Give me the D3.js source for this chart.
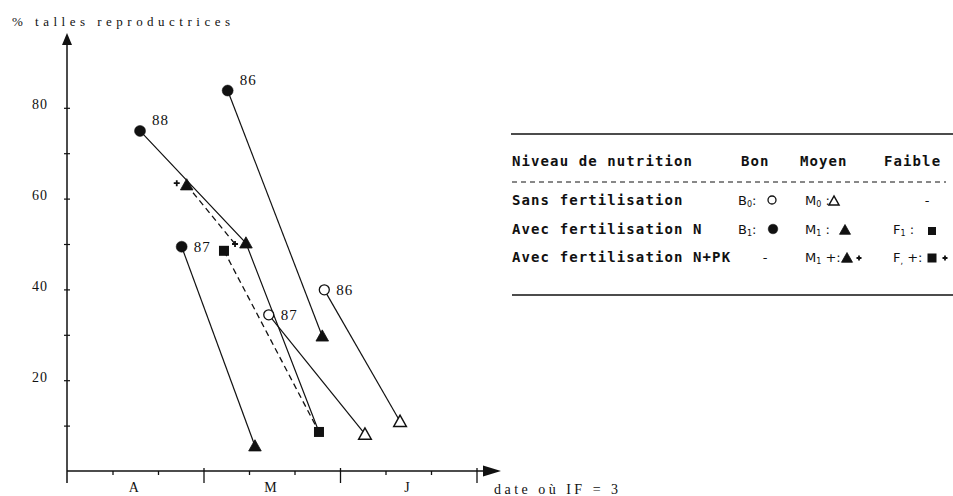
<!DOCTYPE html>
<html><head><meta charset="utf-8">
<script src="https://cdn.jsdelivr.net/npm/d3@7"></script>
<style>body{margin:0;background:#fff}</style>
</head><body><svg id="c" width="953" height="496"></svg>
<script>
// ---------- data (x in months from 1 April, y in % reproductive tillers) ----------
const monthLabels = ["A", "M", "J"];
const yTickValues = [20, 40, 60, 80];
const yMinorValues = [10, 30, 50, 70];
const xTickValues = [1/3, 2/3, 1, 4/3, 5/3, 2, 7/3, 8/3, 3];

const lineSolid88 = [[0.535, 74.9], [1.311, 50.2], [1.846, 8.6]];
const lineDashM88 = [[0.877, 63.0], [1.231, 50.0]];
const lineDashF88 = [[1.150, 48.5], [1.846, 8.6]];
const lineSolid86 = [[1.177, 83.8], [1.870, 29.7]];
const lineSolid87 = [[0.840, 49.4], [1.377, 5.5]];
const lineOpen87  = [[1.478, 34.4], [2.183, 8.1]];
const lineOpen86  = [[1.885, 39.9], [2.440, 10.9]];

const circlesFilled   = [[0.535, 74.9], [1.177, 83.8], [0.840, 49.4]];
const circlesOpen     = [[1.478, 34.4], [1.885, 39.9]];
const trianglesFilled = [[0.877, 63.0], [1.311, 50.2], [1.870, 29.7], [1.377, 5.5]];
const trianglesOpen   = [[2.183, 8.1], [2.440, 10.9]];
const squaresFilled   = [[1.150, 48.5], [1.846, 8.6]];
const plusMarks       = [[0.804, 63.4], [1.231, 50.0]];

const yearLabels = ["88", "86", "87", "86", "87"];
const yearLabelPts = [[0.535, 74.9], [1.177, 83.8], [0.840, 49.4], [1.885, 39.9], [1.478, 34.4]];
const yearLabelSide = ["ne", "ne", "e", "e", "e"];

const legendHeader = ["Niveau de nutrition", "Bon", "Moyen", "Faible"];
const legendRows = ["Sans fertilisation", "Avec fertilisation N", "Avec fertilisation N+PK"];

// ---------- drawing ----------
const svg = d3.select("#c");
const x = d3.scaleLinear().domain([0, 3]).range([67, 476.5]);
const y = d3.scaleLinear().domain([0, 80]).range([471, 107.8]);
const ink = "#111";
const serif = "'Liberation Serif', 'DejaVu Serif', serif";
const mono = "'DejaVu Sans Mono', 'Liberation Mono', monospace";

// title
svg.append("text").attr("x", 12).attr("y", 26)
  .attr("font-family", serif).attr("font-size", 13).attr("fill", ink)
  .attr("textLength", 218).attr("lengthAdjust", "spacing")
  .text("% talles reproductrices");

// y axis
const gy = svg.append("g").attr("transform", "translate(67,0)")
  .call(d3.axisLeft(y).tickValues(yMinorValues.concat(yTickValues)).tickSize(3)
        .tickFormat(d => yTickValues.includes(d) ? d : ""));
gy.select(".domain").remove();
gy.selectAll(".tick line").attr("x1", -3).attr("x2", 3).attr("stroke", ink).attr("stroke-width", 1.2);
gy.selectAll(".tick text").attr("x", -19).attr("dy", "0.07em")
  .attr("font-family", serif).attr("font-size", 14).attr("fill", ink).attr("letter-spacing", 1);
svg.append("line").attr("x1", 67).attr("x2", 67).attr("y1", 44).attr("y2", 483)
  .attr("stroke", ink).attr("stroke-width", 1.5);
svg.append("path").attr("d", "M67,33 L62,45 L72,45 Z").attr("fill", ink);

// x axis
const gx = svg.append("g").attr("transform", "translate(0,471)")
  .call(d3.axisBottom(x).tickValues(xTickValues).tickFormat(""));
gx.select(".domain").remove();
gx.selectAll(".tick line")
  .attr("y1", d => Math.abs(d - Math.round(d)) < 1e-6 ? -3 : 0)
  .attr("y2", d => Math.abs(d - Math.round(d)) < 1e-6 ? 12 : 4)
  .attr("stroke", ink).attr("stroke-width", 1.3);
svg.append("line").attr("x1", 67).attr("x2", 485).attr("y1", 471).attr("y2", 471)
  .attr("stroke", ink).attr("stroke-width", 1.5);
svg.append("path").attr("d", "M501,471 L483,465.5 L483,476.5 Z").attr("fill", ink);
svg.selectAll("text.month").data(monthLabels).join("text").attr("class", "month")
  .attr("x", (d, i) => x(i + 0.49)).attr("y", 492).attr("text-anchor", "middle")
  .attr("font-family", serif).attr("font-size", 14).attr("fill", ink).text(d => d);
svg.append("text").attr("x", 494).attr("y", 494)
  .attr("font-family", serif).attr("font-size", 14).attr("fill", ink)
  .attr("textLength", 124).attr("lengthAdjust", "spacing")
  .text("date où IF = 3");

// lines
const line = d3.line().x(d => x(d[0])).y(d => y(d[1]));
[lineSolid88, lineSolid86, lineSolid87, lineOpen87, lineOpen86].forEach(l =>
  svg.append("path").attr("d", line(l)).attr("fill", "none").attr("stroke", ink).attr("stroke-width", 1.2));
[lineDashM88, lineDashF88].forEach(l =>
  svg.append("path").attr("d", line(l)).attr("fill", "none").attr("stroke", ink)
     .attr("stroke-width", 1.3).attr("stroke-dasharray", "6,4"));

// marker helpers
function tri(g, cx, cy, s, filled) {
  g.append("path").attr("d", `M${cx},${cy - s} L${cx - s},${cy + s * 0.78} L${cx + s},${cy + s * 0.78} Z`)
    .attr("fill", filled ? ink : "#fff").attr("stroke", ink).attr("stroke-width", filled ? 0.8 : 1.5)
    .attr("stroke-linejoin", "miter");
}
function circ(g, cx, cy, r, filled) {
  g.append("circle").attr("cx", cx).attr("cy", cy).attr("r", r)
    .attr("fill", filled ? ink : "#fff").attr("stroke", ink).attr("stroke-width", filled ? 0.5 : 1.3);
}
function sq(g, cx, cy, s) {
  g.append("rect").attr("x", cx - s / 2).attr("y", cy - s / 2).attr("width", s).attr("height", s).attr("fill", ink);
}
function plus(g, cx, cy, s) {
  g.append("path").attr("d", `M${cx - s},${cy} H${cx + s} M${cx},${cy - s} V${cy + s}`)
    .attr("stroke", ink).attr("stroke-width", 1.8);
}

const gm = svg.append("g");
circlesFilled.forEach(p => circ(gm, x(p[0]), y(p[1]), 5.5, true));
circlesOpen.forEach(p => circ(gm, x(p[0]), y(p[1]), 5, false));
trianglesFilled.forEach(p => tri(gm, x(p[0]), y(p[1]), 6.3, true));
trianglesOpen.forEach(p => tri(gm, x(p[0]), y(p[1]), 6.3, false));
squaresFilled.forEach(p => sq(gm, x(p[0]), y(p[1]), 10));
plusMarks.forEach(p => plus(gm, x(p[0]), y(p[1]), 3));

// year labels
svg.selectAll("text.yr").data(yearLabels).join("text").attr("class", "yr")
  .attr("x", (d, i) => x(yearLabelPts[i][0]) + 12)
  .attr("y", (d, i) => y(yearLabelPts[i][1]) + (yearLabelSide[i] === "ne" ? -6 : 5))
  .attr("font-family", serif).attr("font-size", 15).attr("fill", ink).attr("letter-spacing", 1)
  .text(d => d);

// ---------- legend table ----------
const lg = svg.append("g");
lg.append("line").attr("x1", 511).attr("x2", 953).attr("y1", 134).attr("y2", 134).attr("stroke", ink).attr("stroke-width", 1.3);
lg.append("line").attr("x1", 512).attr("x2", 946).attr("y1", 182).attr("y2", 182).attr("stroke", ink)
  .attr("stroke-width", 1).attr("stroke-dasharray", "5,4");
lg.append("line").attr("x1", 512).attr("x2", 953).attr("y1", 295).attr("y2", 295).attr("stroke", ink).attr("stroke-width", 1.3);

const headerX = [512, 741, 800, 884];
lg.selectAll("text.hd").data(legendHeader).join("text").attr("class", "hd")
  .attr("x", (d, i) => headerX[i]).attr("y", 166)
  .attr("font-family", mono).attr("font-weight", "bold").attr("font-size", 14)
  .attr("letter-spacing", 1.1).attr("fill", ink).text(d => d);
const rowY = [205, 234, 262];
lg.selectAll("text.rw").data(legendRows).join("text").attr("class", "rw")
  .attr("x", 512).attr("y", (d, i) => rowY[i])
  .attr("font-family", mono).attr("font-weight", "bold").attr("font-size", 14)
  .attr("letter-spacing", 1.1).attr("fill", ink).text(d => d);

function code(xx, yy, letter, sub, suffix) {
  const t = lg.append("text").attr("x", xx).attr("y", yy)
    .attr("font-family", "'DejaVu Sans', sans-serif").attr("font-size", 13).attr("fill", ink);
  t.append("tspan").text(letter);
  t.append("tspan").attr("font-size", 8).attr("dy", 2).text(sub);
  t.append("tspan").attr("dy", -2).text(suffix);
}
function dash(xx, yy) {
  lg.append("text").attr("x", xx).attr("y", yy).attr("text-anchor", "middle")
    .attr("font-family", "'DejaVu Sans', sans-serif").attr("font-size", 13).attr("fill", ink).text("-");
}
// row 1
code(738, rowY[0], "B", "0", ":"); circ(lg, 772, rowY[0] - 5, 4, false);
code(805, rowY[0], "M", "0", " :"); tri(lg, 834, rowY[0] - 4, 5, false);
dash(927, rowY[0]);
// row 2
code(738, rowY[1], "B", "1", ":"); circ(lg, 773, rowY[1] - 5, 4.8, true);
code(805, rowY[1], "M", "1", " :"); tri(lg, 845, rowY[1] - 4, 5.5, true);
code(893, rowY[1], "F", "1", " :"); sq(lg, 932, rowY[1] - 3, 8);
// row 3
dash(765, rowY[2]);
code(805, rowY[2], "M", "1", " +:"); tri(lg, 847, rowY[2] - 4, 5.5, true); plus(lg, 859, rowY[2] - 4, 2.5);
code(893, rowY[2], "F", ",", " +:"); sq(lg, 932, rowY[2] - 4, 9); plus(lg, 945, rowY[2] - 4, 2.5);
</script></body></html>
